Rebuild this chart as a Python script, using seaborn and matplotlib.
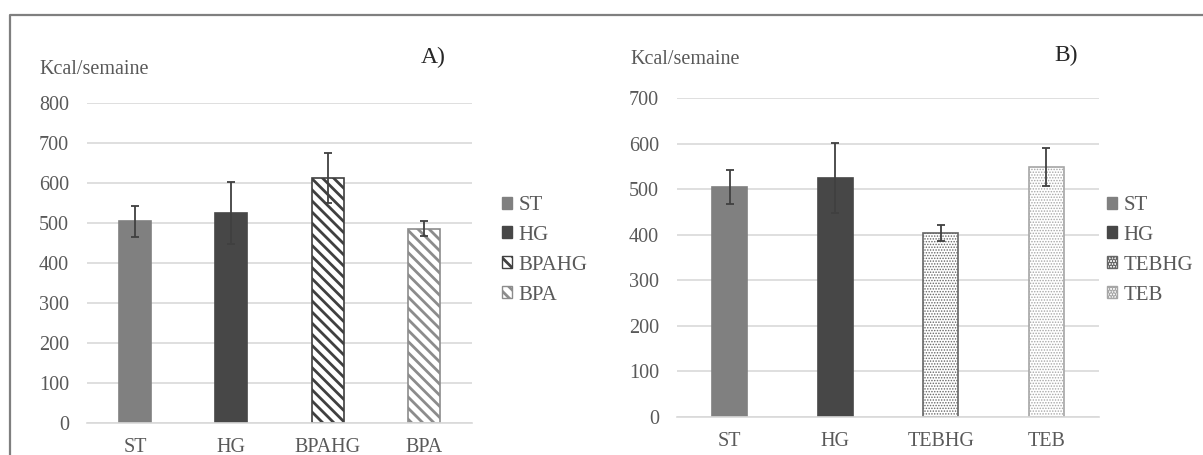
import numpy as np
import pandas as pd
import seaborn as sns
import matplotlib.pyplot as plt
from matplotlib.patches import Patch
from matplotlib.lines import Line2D

# panel A
groups_a = ['ST', 'HG', 'BPAHG', 'BPA']
kcal_a = [504, 525, 613, 486]
err_a = [38, 78, 62, 18]

# panel B
groups_b = ['ST', 'HG', 'TEBHG', 'TEB']
kcal_b = [505, 524, 404, 548]
err_b = [38, 77, 18, 42]

# face, edge, hatch, hatch linewidth for each group
styles = {
    'ST': ('#808080', '#808080', None, 1.0),
    'HG': ('#474747', '#474747', None, 1.0),
    'BPAHG': ('white', '#404040', '\\\\\\', 2.0),
    'BPA': ('white', '#8c8c8c', '\\\\\\', 2.0),
    'TEBHG': ('white', '#666666', '......', 0.7),
    'TEB': ('white', '#a6a6a6', '......', 0.7),
}

TXT = '#595959'
W, H = 1203, 455


def style_patch(p, g):
    face, edge, hatch, hlw = styles[g]
    p.set_facecolor(face)
    p.set_edgecolor(edge)
    if hatch:
        p.set_hatch(hatch)
        if hasattr(p, 'set_hatch_linewidth'):
            p.set_hatch_linewidth(hlw)


def draw_panel(ax, groups, vals, errs, ymax, letter, letter_xy, ylab_xy, leg_xy):
    df = pd.DataFrame({'group': groups, 'kcal': vals})
    sns.barplot(data=df, x='group', y='kcal', hue='group', order=groups,
                palette=[styles[g][0] for g in groups], width=0.33,
                legend=False, errorbar=None, ax=ax, zorder=2)

    xs, tops = [], []
    for cont, g in zip(ax.containers, groups):
        for p in cont:
            style_patch(p, g)
            p.set_linewidth(1.2)
            xs.append(p.get_x() + p.get_width() / 2)
            tops.append(p.get_height())
    ax.errorbar(xs, tops, yerr=errs, fmt='none', ecolor='#404040',
                elinewidth=1.3, capsize=3, capthick=1.3, zorder=3)

    ax.set_ylim(0, ymax)
    ax.set_xlim(-0.5, len(groups) - 0.5)
    ax.set_yticks(np.arange(0, ymax + 1, 100))
    ax.yaxis.grid(True, color='#d9d9d9', linewidth=1.2, zorder=0)
    ax.set_axisbelow(True)
    for s in ['top', 'right', 'left']:
        ax.spines[s].set_visible(False)
    ax.spines['bottom'].set_color('#d9d9d9')
    ax.spines['bottom'].set_linewidth(1.2)
    ax.tick_params(axis='both', length=0, labelsize=14.5, labelcolor=TXT)
    ax.tick_params(axis='y', pad=13)
    ax.tick_params(axis='x', pad=11)
    ax.set_xlabel('')
    ax.set_ylabel('')

    fig = ax.figure
    fig.text(ylab_xy[0] / W, 1 - ylab_xy[1] / H, 'Kcal/semaine',
             fontsize=14.5, color=TXT, va='center', ha='left')
    fig.text(letter_xy[0] / W, 1 - letter_xy[1] / H, letter,
             fontsize=17, color='#262626', va='center', ha='left')

    handles = []
    for g in groups:
        h = Patch(linewidth=1.0)
        style_patch(h, g)
        handles.append(h)
    fig.legend(handles, groups, loc='upper left',
               bbox_to_anchor=(leg_xy[0] / W, 1 - leg_xy[1] / H),
               frameon=False, fontsize=15, labelcolor=TXT,
               handlelength=0.5, handleheight=0.5, handletextpad=0.3,
               labelspacing=0.52, borderpad=0, borderaxespad=0)


sns.set_theme(style='white')
plt.rcParams['font.family'] = ['Liberation Serif', 'DejaVu Serif']
plt.rcParams['hatch.linewidth'] = 2.0

fig = plt.figure(figsize=(W / 100, H / 100), dpi=100)
ax_a = fig.add_axes([87 / W, 1 - 423 / H, 385 / W, 320 / H])
ax_b = fig.add_axes([677 / W, 1 - 417 / H, 422 / W, 319 / H])

draw_panel(ax_a, groups_a, kcal_a, err_a, 800, 'A)', (421, 57), (39, 69), (502, 196))
draw_panel(ax_b, groups_b, kcal_b, err_b, 700, 'B)', (1054, 55), (630, 59), (1107, 196))

# outer frame (top and left edges visible in the original)
fig.add_artist(Line2D([10 / W, 10 / W, 1], [0, 1 - 15 / H, 1 - 15 / H],
                      transform=fig.transFigure, color='#7f7f7f', linewidth=1.6))

fig.savefig('out.png', dpi=100)
